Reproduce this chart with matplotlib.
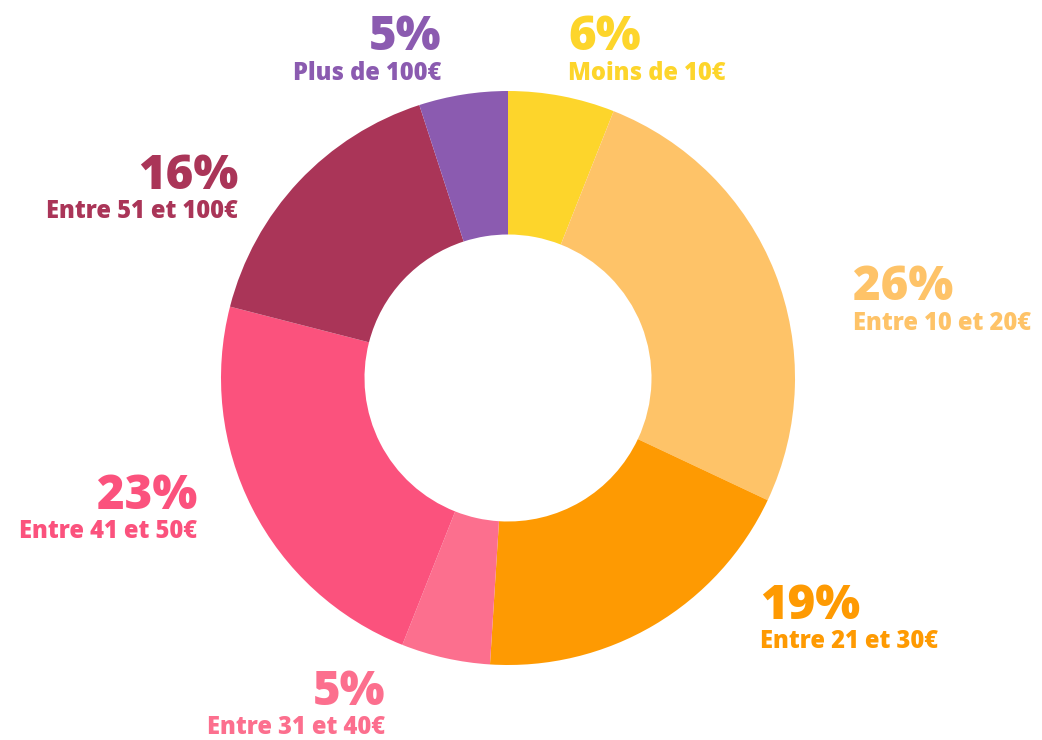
import matplotlib.pyplot as plt

# data
categories = ['Moins de 10€', 'Entre 10 et 20€', 'Entre 21 et 30€', 'Entre 31 et 40€',
              'Entre 41 et 50€', 'Entre 51 et 100€', 'Plus de 100€']
values = [6, 26, 19, 5, 23, 16, 5]
colors = ['#FDD52B', '#FEC368', '#FE9A02', '#FC6F8E', '#FB527D', '#AA3558', '#8B5BB0']

# label anchors in pixels (x, y from top of the picture), alignment
label_pos = [(568, 38, 'left'), (853, 288, 'left'), (760, 607, 'left'), (385, 693, 'right'),
             (197, 497, 'right'), (238, 177, 'right'), (441, 38, 'right')]

W, H = 1042, 740
fig = plt.figure(figsize=(W / 100, H / 100), dpi=100)

cx, cy, r = 508, 378, 287
ax = fig.add_axes([(cx - r) / W, (H - cy - r) / H, 2 * r / W, 2 * r / H])
ax.pie(values, colors=colors, startangle=90, counterclock=False,
       wedgeprops=dict(width=0.5, linewidth=0))
ax.set_xlim(-1, 1)
ax.set_ylim(-1, 1)
ax.set_aspect('equal')
ax.axis('off')

font = ['Open Sans', 'DejaVu Sans']
for cat, val, col, (x, y, ha) in zip(categories, values, colors, label_pos):
    fig.text(x / W, 1 - y / H, f'{val}%', color=col, fontsize=34, fontweight='heavy',
             family=font, ha=ha, va='center')
    fig.text(x / W, 1 - (y + 35) / H, cat, color=col, fontsize=17, fontweight='heavy',
             family=font, ha=ha, va='center')

fig.savefig('out.png', dpi=100)
